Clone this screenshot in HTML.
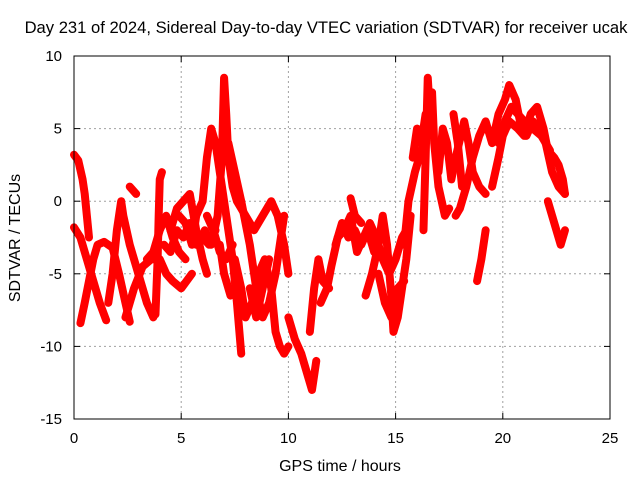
<!DOCTYPE html>
<html><head><meta charset="utf-8"><style>
body{margin:0;background:#fff;}
svg text{font-family:"Liberation Sans",sans-serif;font-size:15px;fill:#000;}
</style></head><body>
<svg id="chart" width="640" height="480" xmlns="http://www.w3.org/2000/svg">
<rect width="640" height="480" fill="#fff"/>
<text x="326" y="33" text-anchor="middle" style="font-size:16.6px">Day 231 of 2024, Sidereal Day-to-day VTEC variation (SDTVAR) for receiver ucak</text>
<g id="grid"></g>
<g id="ticks"></g>
<g id="series"></g>
<rect x="74" y="56" width="536" height="363" fill="none" stroke="#000" stroke-width="1"/>
<text x="340" y="471" text-anchor="middle" style="font-size:16px">GPS time / hours</text>
<text x="0" y="0" text-anchor="middle" transform="translate(20,238) rotate(-90)" style="font-size:16px">SDTVAR / TECUs</text>
</svg>
<script>
const xTicks=[0,5,10,15,20,25];
const yTicks=[10,5,0,-5,-10,-15];
const tracks=[
[[0,3.2],[0.2,2.8],[0.4,1.5],[0.5,0.5],[0.6,-1],[0.7,-2.5]],
[[0,-1.8],[0.3,-2.5],[0.6,-4],[0.9,-5.5],[1.2,-7],[1.5,-8.2]],
[[0.3,-8.4],[0.5,-7],[0.7,-5.5],[0.9,-4],[1.1,-3],[1.4,-2.8],[1.8,-3.2],[2.1,-5],[2.4,-7],[2.6,-8.3]],
[[1.6,-7],[1.8,-5],[2.0,-2],[2.2,0],[2.3,-1],[2.6,-3],[3,-5],[3.4,-7],[3.7,-8]],
[[2.4,-8],[2.8,-6],[3.2,-4.5],[3.6,-4],[4,-4],[4.3,-5],[4.6,-5.5],[5,-6],[5.5,-5]],
[[2.6,1],[2.9,0.5]],
[[3.8,-7.8],[3.9,-4],[3.95,-1],[4,1.5],[4.1,2]],
[[3.4,-4],[3.7,-3.5],[4,-2],[4.3,-1],[4.6,-2.5],[4.9,-3.5],[5.2,-4]],
[[4.5,-2],[4.8,-0.5],[5.1,0],[5.4,0.5],[5.7,-2],[6,-4],[6.2,-5]],
[[4.9,-1],[5.2,-1.5],[5.5,-3],[5.7,-1],[6,0],[6.2,3],[6.4,5],[6.6,4],[6.9,1],[7.1,-1],[7.4,-4],[7.6,-7],[7.8,-10.5]],
[[5.8,-3],[6.1,-2],[6.4,-3],[6.7,-1],[6.9,3],[7.0,8.5],[7.1,6],[7.2,3],[7.4,1],[7.6,0],[8,-1],[8.4,-2],[8.8,-1],[9.2,0],[9.5,-1],[9.8,-3],[10,-5]],
[[6.8,-3],[7,-5],[7.3,-6.5]],
[[7.5,-4],[7.8,-6],[8,-8],[8.3,-7],[8.6,-5],[8.9,-4],[9.2,-6],[9.4,-9],[9.6,-10],[9.8,-10.5],[10,-10]],
[[7.2,4],[7.5,2],[7.8,0],[8.2,-3],[8.5,-6],[8.8,-8],[9.1,-7],[9.4,-5],[9.7,-2],[9.8,-1]],
[[10,-8],[10.3,-9.5],[10.6,-10.5],[10.9,-12],[11.1,-13],[11.3,-11]],
[[11,-9],[11.2,-6],[11.4,-4],[11.6,-5.5],[11.9,-6]],
[[11.5,-7],[11.8,-6],[12,-4.5],[12.3,-2.5],[12.6,-2],[12.9,-1],[13.2,-3.5],[13.5,-2.5],[13.8,-1.5],[14.1,-2.5],[14.4,-4],[14.7,-5],[15,-4],[15.3,-2.5],[15.5,-2]],
[[12.9,0.2],[13.1,-1],[13.4,-1.5]],
[[13.6,-6.5],[13.9,-5],[14.2,-3],[14.4,-1],[14.6,-3],[14.8,-6.5],[14.9,-9],[15.1,-8],[15.3,-6],[15.5,-4],[15.7,-1]],
[[15.4,-3],[15.6,0],[15.9,2],[16.2,3.5],[16.5,5],[16.7,7.5],[16.8,4],[17,1],[17.3,-1],[17.5,-0.5]],
[[16.3,-2],[16.4,3],[16.5,8.5],[16.6,6]],
[[17,2],[17.2,5],[17.4,4],[17.6,1.5],[17.8,3],[18.2,5.5],[18.4,4],[18.6,2],[18.9,1],[19.2,0.5]],
[[17.8,-1],[18,-0.5],[18.3,1],[18.6,3],[18.9,4.5],[19.2,5.5],[19.5,4],[19.8,6],[20.1,7],[20.3,8],[20.6,7],[20.8,5.5],[21.1,4.5],[21.4,5.5],[21.7,5],[22,4],[22.3,2],[22.6,1],[22.9,0.5]],
[[18.8,-5.5],[19,-4],[19.2,-2]],
[[19.5,1],[19.8,3],[20,4.5],[20.3,5.5],[20.7,5],[21,4.5],[21.3,6],[21.6,6.5],[21.9,5],[22.1,3.5],[22.4,3],[22.6,2.5],[22.8,1.5],[22.9,0.5]],
[[22.1,0],[22.3,-1],[22.5,-2],[22.7,-3],[22.9,-2]],
[[17.7,6],[17.9,4],[18.1,1],[18.3,1.5]],
[[4.2,-3],[4.5,-3.5],[4.8,-2],[5.1,-2.5],[5.4,-1.5],[5.7,-3],[6.0,-2.5],[6.3,-3],[6.6,-2]],
[[6.2,-1],[6.5,-2],[6.8,-3.5],[7.1,-4],[7.4,-3]],
[[15.8,3],[16,5],[16.2,4],[16.4,6]],
[[19.8,4],[20.1,5.5],[20.4,6.5],[20.7,6],[21,5.5],[21.4,5],[21.8,4.5],[22.2,3.5]],
[[8.2,-6],[8.5,-8],[8.8,-6],[9.1,-4]],
[[12.2,-3],[12.5,-1.5],[12.8,-2.5],[13.1,-2],[13.4,-3],[13.7,-2],[14,-3.5]],
[[14.2,-5],[14.5,-7],[14.8,-8],[15.1,-6],[15.4,-5.5]]
];
const NS='http://www.w3.org/2000/svg';
const X0=74,X1=610,Y0=419,Y1=56;
function xs(t){return X0+(t-0)/(25-0)*(X1-X0);}
function ys(v){return Y0-(v+15)/(10+15)*(Y0-Y1);}
const grid=document.getElementById('grid'),ticks=document.getElementById('ticks'),series=document.getElementById('series');
function mk(tag,attrs,parent){const e=document.createElementNS(NS,tag);for(const k in attrs)e.setAttribute(k,attrs[k]);parent.appendChild(e);return e;}
xTicks.forEach(t=>{
  const x=xs(t);
  if(t>0&&t<25){const g=mk('line',{x1:x,x2:x,y1:Y1,y2:Y0,stroke:'#a0a0a0','stroke-dasharray':'2,3'},grid);
  
  }
  mk('line',{x1:x,x2:x,y1:Y0,y2:Y0-6,stroke:'#000'},ticks);
  mk('line',{x1:x,x2:x,y1:Y1,y2:Y1+6,stroke:'#000'},ticks);
  const l=mk('text',{x:x,y:Y0+24,'text-anchor':'middle'},ticks);l.textContent=t;
  
  
});
yTicks.forEach(v=>{
  const y=ys(v);
  if(v>-15&&v<10){const g=mk('line',{x1:X0,x2:X1,y1:y,y2:y,stroke:'#a0a0a0','stroke-dasharray':'2,3'},grid);
  
  }
  mk('line',{x1:X0,x2:X0+6,y1:y,y2:y,stroke:'#000'},ticks);
  mk('line',{x1:X1,x2:X1-6,y1:y,y2:y,stroke:'#000'},ticks);
  const l=mk('text',{x:X0-12,y:y+5,'text-anchor':'end'},ticks);l.textContent=v;
  
  
});
tracks.forEach(tr=>{
  const p=mk('polyline',{points:tr.map(d=>xs(d[0])+','+ys(d[1])).join(' '),fill:'none',stroke:'#ff0000','stroke-width':8,'stroke-linejoin':'round','stroke-linecap':'round'},series);
  
  
});
</script>
</body></html>
